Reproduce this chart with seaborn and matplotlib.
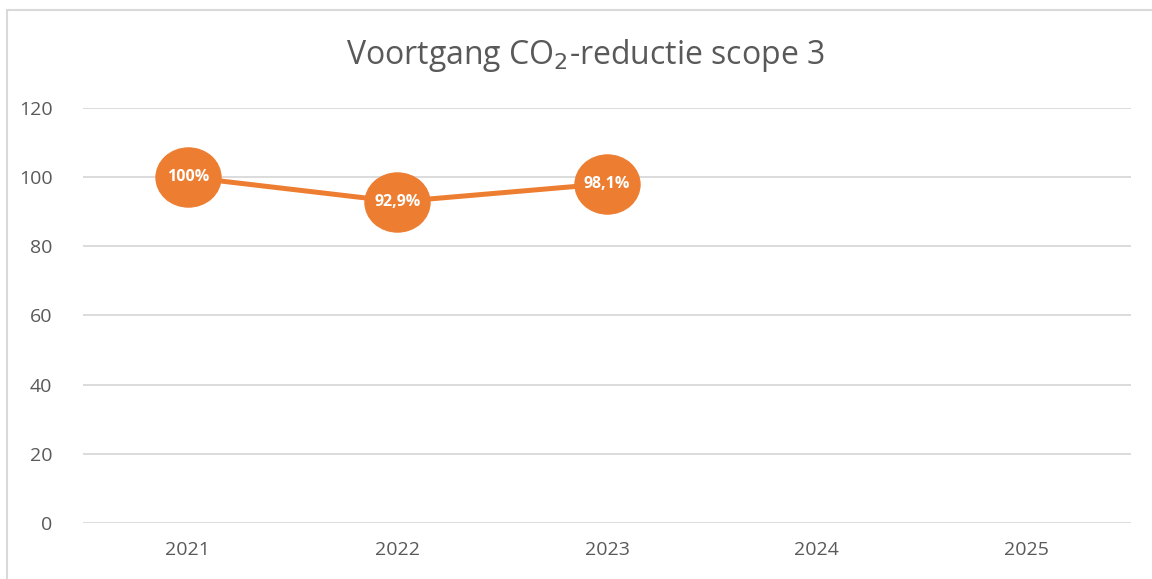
import numpy as np
import pandas as pd
import matplotlib
matplotlib.use("Agg")
import matplotlib.pyplot as plt
from matplotlib.path import Path
from matplotlib.transforms import Affine2D
import seaborn as sns

# data
years = [2021, 2022, 2023, 2024, 2025]
values = [100.0, 92.9, 98.1, np.nan, np.nan]
labels = ["100%", "92,9%", "98,1%", "", ""]
y_ticks = [0, 20, 40, 60, 80, 100, 120]

sns.set_style("white")
plt.rcParams["font.family"] = ["Open Sans", "DejaVu Sans"]

orange = "#ED7D31"
grey_text = "#595959"

df = pd.DataFrame({"year": years, "value": values, "label": labels})

# slightly wide ellipse marker like the data labels in the original
ellipse = Path.unit_circle().transformed(Affine2D().scale(1.1, 1.0))

fig = plt.figure(figsize=(11.52, 5.79), dpi=100)
ax = fig.add_axes([0.072, 0.0967, 0.910, 0.7168])

sns.lineplot(data=df.dropna(), x="year", y="value", ax=ax, color=orange,
             linewidth=3.6, marker=ellipse, markersize=47,
             markeredgecolor=orange, markerfacecolor=orange, zorder=3)

for _, row in df.dropna().iterrows():
    ax.text(row["year"], row["value"], row["label"], ha="center", va="center",
            color="white", fontsize=11.5, fontweight="bold", zorder=4)

ax.set_xlim(years[0] - 0.5, years[-1] + 0.5)
ax.set_ylim(0, 120)
ax.set_xticks(years)
ax.set_xticklabels([str(y) for y in years])
ax.set_yticks(y_ticks)
ax.yaxis.grid(True, color="#D9D9D9", linewidth=1.3)
ax.xaxis.grid(False)
for s in ax.spines.values():
    s.set_visible(False)
ax.tick_params(axis="both", length=0, labelsize=14, labelcolor=grey_text)
ax.tick_params(axis="y", pad=22)
ax.tick_params(axis="x", pad=13)
ax.set_xlabel("")
ax.set_ylabel("")

fig.text(0.508, 0.905, "Voortgang CO$_2$-reductie scope 3", ha="center",
         va="center", fontsize=23, color=grey_text)

# chart border (left and top)
fig.add_artist(plt.Line2D([0.006, 0.006], [0, 0.983], color="#D9D9D9",
                          linewidth=1.5, transform=fig.transFigure))
fig.add_artist(plt.Line2D([0.006, 1.0], [0.983, 0.983], color="#D9D9D9",
                          linewidth=1.5, transform=fig.transFigure))

fig.savefig("out.png", dpi=100, facecolor="white")
